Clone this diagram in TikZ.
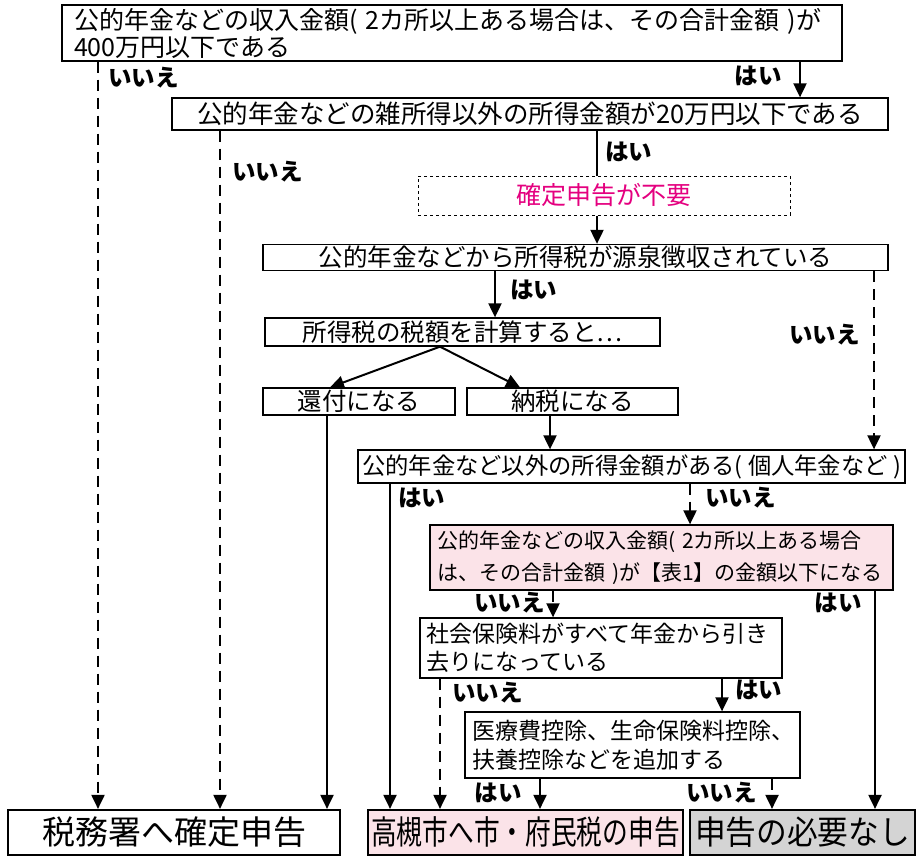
\documentclass[tikz,border=0pt]{standalone}
\usepackage{fontspec}
\setmainfont{Noto Sans CJK JP}
\usepackage{graphicx}
\usetikzlibrary{arrows.meta}
\definecolor{pinkbg}{HTML}{FBE3E8}
\definecolor{graybg}{HTML}{D4D4D4}
\definecolor{magentatxt}{HTML}{E4007F}

\begin{document}
\begin{tikzpicture}[x=1pt,y=-1pt,
  box/.style={draw, line width=1.3pt, inner sep=0pt, font=\fontsize{24.5}{28}\selectfont},
  lbl/.style={font=\bfseries\fontsize{23.5}{26}\selectfont, inner sep=0pt},
  yes/.style={line width=2pt, -{Triangle[length=14pt,width=13pt]}},
  no/.style={yes, dash pattern=on 11pt off 7pt},
  endbox/.style={draw, line width=2.2pt, inner sep=0pt, minimum height=45pt, font=\fontsize{33}{36}\selectfont}]
\useasboundingbox (0,0) rectangle (917,865);

% questions
\node[box, font=\fontsize{25}{27}\selectfont, text width=756pt, inner xsep=12pt, minimum height=56pt, align=left] (q1) at (452,33)
  {\mbox{公的年金などの収入金額( 2カ所以上ある場合は、その合計金額 )が}\\400万円以下である};
\node[box, font=\fontsize{25.5}{28}\selectfont, minimum width=716pt, minimum height=32pt] (q2) at (530,114)
  {公的年金などの雑所得以外の所得金額が20万円以下である};
\node[box, dashed, line width=1pt, font=\fontsize{25}{28}\selectfont, minimum width=372pt, minimum height=39pt, text=magentatxt] (nofile) at (604,195.5)
  {確定申告が不要};
\node[box, minimum width=625pt, minimum height=26pt] (q3) at (575.5,257.5)
  {公的年金などから所得税が源泉徴収されている};
\node[box, minimum width=395pt, minimum height=28pt] (calc) at (462.5,332)
  {所得税の税額を計算すると…};
\node[box, minimum width=192pt, minimum height=27pt] (refund) at (359,401.5) {還付になる};
\node[box, minimum width=211pt, minimum height=27pt] (pay) at (572.5,401.5) {納税になる};
\node[box, font=\fontsize{23.3}{27}\selectfont, minimum width=547pt, minimum height=33pt] (q4) at (631.5,466.5)
  {公的年金など以外の所得金額がある( 個人年金など )};
\node[box, font=\fontsize{21}{32}\selectfont, fill=pinkbg, text width=449pt, inner xsep=7pt, minimum height=65pt, align=left] (q5) at (661.5,557.5)
  {\mbox{公的年金などの収入金額( 2カ所以上ある場合}\\\mbox{は、その合計金額 )が【表1】の金額以下になる}};
\node[box, font=\fontsize{23}{28}\selectfont, text width=350pt, inner xsep=6pt, minimum height=60pt, align=left] (q6) at (601,648)
  {\mbox{社会保険料がすべて年金から引き}\\去りになっている};
\node[box, font=\fontsize{23}{29}\selectfont, text width=321pt, inner xsep=7pt, minimum height=66pt, align=left] (q7) at (632.5,745)
  {\mbox{医療費控除、生命保険料控除、}\\扶養控除などを追加する};

% results
\node[endbox, minimum width=332pt] (tax) at (174,832.5) {税務署へ確定申告};
\node[endbox, minimum width=315pt, fill=pinkbg] (city) at (525.5,832.5) {\scalebox{0.78}[1]{高槻市へ市・府民税の申告}};
\node[endbox, minimum width=225pt, fill=graybg] (none) at (802.5,832.5) {\scalebox{0.93}[1]{申告の必要なし}};

% labels
\node[lbl, anchor=west] (n1) at (108,78) {いいえ};
\node[lbl, anchor=east] (y1) at (782,76) {はい};
\node[lbl, anchor=west] (n2) at (232,172) {いいえ};
\node[lbl, anchor=west] (y2) at (605,152) {はい};
\node[lbl, anchor=west] (y3) at (510,290) {はい};
\node[lbl, anchor=east] (n3) at (860,335) {いいえ};
\node[lbl, anchor=west] (y4) at (398,498) {はい};
\node[lbl, anchor=west] (n4) at (705,498) {いいえ};
\node[lbl, anchor=east] (n5) at (545,603) {いいえ};
\node[lbl, anchor=east] (y5) at (862,603) {はい};
\node[lbl, anchor=west] (n6) at (452,693) {いいえ};
\node[lbl, anchor=west] (y6) at (735,690) {はい};
\node[lbl, anchor=east] (y7) at (522,793) {はい};
\node[lbl, anchor=east] (n7) at (757,793) {いいえ};

% connectors
\draw[no] (q1.south -| 98,0) -- (tax.north -| 98,0);
\draw[yes] (q1.south -| 800,0) -- (q2.north -| 800,0);
\draw[no] (q2.south -| 220,0) -- (tax.north -| 220,0);
\draw[line width=2pt] (q2.south -| 597,0) -- (nofile.north -| 597,0);
\draw[yes] (nofile.south -| 597,0) -- (q3.north -| 597,0);
\draw[yes] (q3.south -| 495,0) -- (calc.north -| 495,0);
\draw[no] (q3.south -| 874,0) -- (q4.north -| 874,0);
\draw[yes] (calc.south -| 440,0) -- (refund.north -| 330,0);
\draw[yes] (calc.south -| 440,0) -- (pay.north -| 520,0);
\draw[yes] (refund.south -| 327,0) -- (tax.north -| 327,0);
\draw[yes] (pay.south -| 550,0) -- (q4.north -| 550,0);
\draw[yes] (q4.south -| 390,0) -- (city.north -| 390,0);
\draw[no] (q4.south -| 690,0) -- (q5.north -| 690,0);
\draw[no] (q5.south -| 553,0) -- (q6.north -| 553,0);
\draw[yes] (q5.south -| 875,0) -- (none.north -| 875,0);
\draw[no] (q6.south -| 440,0) -- (city.north -| 440,0);
\draw[yes] (q6.south -| 722,0) -- (q7.north -| 722,0);
\draw[yes] (q7.south -| 540,0) -- (city.north -| 540,0);
\draw[no] (q7.south -| 772,0) -- (none.north -| 772,0);

\end{tikzpicture}
\end{document}
